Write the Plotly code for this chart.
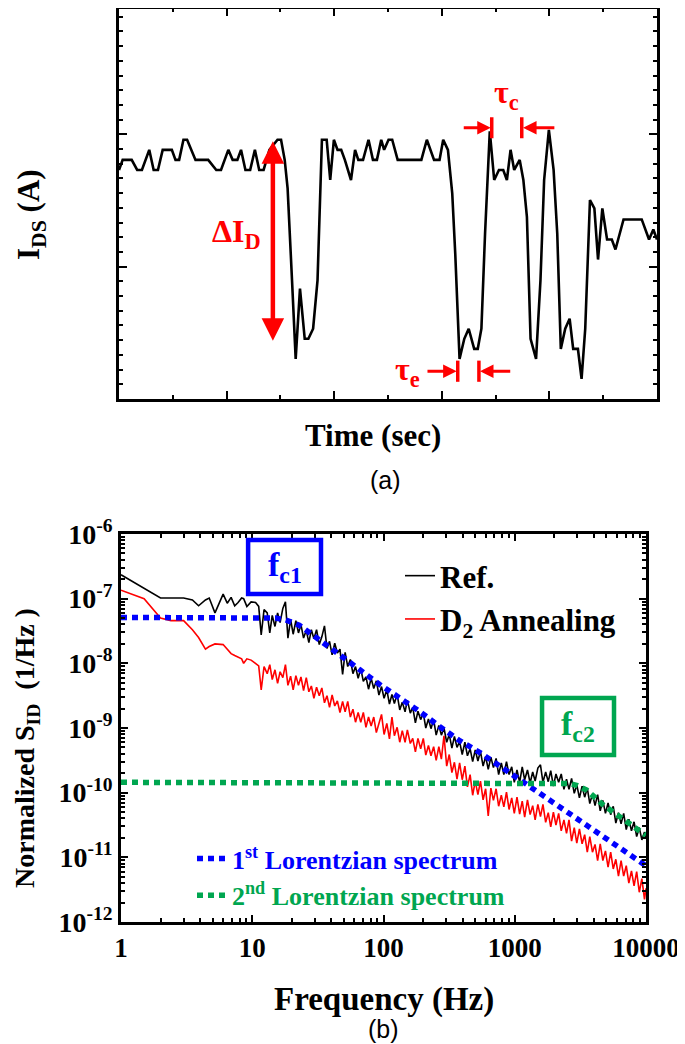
import math
import plotly.graph_objects as go

# ---------------- (a) random telegraph signal ----------------
time_s = [0, 0.034, 0.118, 0.169, 0.213, 0.281, 0.322, 0.362, 0.406, 0.491,
          0.525, 0.559, 0.599, 0.633, 0.711, 0.829, 0.904, 0.948, 1.016, 1.056,
          1.100, 1.134, 1.175, 1.219, 1.263, 1.303, 1.344, 1.398, 1.473, 1.506,
          1.540, 1.567, 1.608, 1.642, 1.682, 1.726, 1.760, 1.804, 1.845, 1.886,
          1.930, 1.963, 1.997, 2.031, 2.065, 2.099, 2.156, 2.194, 2.224, 2.268,
          2.319, 2.360, 2.397, 2.437, 2.464, 2.505, 2.539, 2.590, 2.810, 2.861,
          2.928, 2.979, 3.013, 3.057, 3.097, 3.125, 3.165, 3.209, 3.250, 3.301,
          3.334, 3.368, 3.402, 3.446, 3.487, 3.531, 3.571, 3.605, 3.639, 3.673,
          3.724, 3.758, 3.791, 3.825, 3.876, 3.917, 3.951, 3.995, 4.039, 4.073,
          4.106, 4.147, 4.188, 4.221, 4.265, 4.299, 4.333, 4.377, 4.418, 4.452,
          4.492, 4.536, 4.580, 4.614, 4.689, 4.858, 4.926, 4.966, 5.000]
ids_a = [1.731, 1.807, 1.807, 1.731, 1.731, 1.883, 1.731, 1.731, 1.883, 1.883,
         1.807, 1.807, 1.959, 1.959, 1.807, 1.807, 1.731, 1.731, 1.883, 1.807,
         1.807, 1.883, 1.731, 1.731, 1.883, 1.731, 1.731, 1.883, 1.959, 1.959,
         1.807, 1.592, 0.897, 0.303, 0.834, 0.455, 0.455, 0.531, 0.897, 1.959,
         1.959, 1.655, 1.959, 1.883, 1.883, 1.807, 1.655, 1.883, 1.807, 1.807,
         1.959, 1.807, 1.807, 1.959, 1.883, 1.959, 1.959, 1.807, 1.807, 1.959,
         1.807, 1.807, 1.959, 1.883, 1.554, 1.099, 0.303, 0.455, 0.531, 0.379,
         0.379, 0.531, 1.251, 2.022, 1.655, 1.731, 1.731, 1.655, 1.883, 1.731,
         1.807, 1.655, 1.377, 0.455, 0.303, 0.897, 1.655, 2.034, 1.731, 1.251,
         0.379, 0.531, 0.607, 0.379, 0.379, 0.152, 0.531, 1.504, 1.440, 1.054,
         1.440, 1.205, 1.205, 1.130, 1.357, 1.357, 1.205, 1.281, 1.205]

# ---------------- (b) noise spectra (log10 of normalized S_ID) ----------------
freq_hz = [1, 1.5, 2, 2.4, 3, 3.5, 3.9, 4.4, 4.7, 5.2,
           6, 6.45, 6.9, 7.35, 7.8, 8.3, 8.6, 9.1, 9.8, 10.6,
           11.2, 11.7, 12.3, 13, 13.6, 14.2, 14.9, 15.6, 16.3, 17.1,
           17.9, 18.7, 19.6, 20.5, 21.5, 22.5, 23.5, 24.6, 25.8, 27,
           28.2, 29.5, 30.9, 32.4, 33.9, 35.5, 37.1, 38.8, 40.6, 42.5,
           44.5, 46.6, 48.8, 51, 53.4, 55.9, 58.5, 61.2, 64.1, 67.1,
           70.2, 73.5, 76.9, 80.5, 84.3, 88.2, 92.3, 96.6, 101, 106,
           111, 116, 121, 127, 133, 139, 146, 152, 160, 167,
           175, 183, 192, 201, 210, 220, 230, 241, 252, 264,
           276, 289, 303, 317, 332, 347, 363, 380, 398, 417,
           436, 457, 478, 500, 524, 548, 574, 600, 628, 658,
           688, 721, 754, 790, 826, 865, 905, 948, 992, 1040,
           1090, 1140, 1190, 1250, 1310, 1370, 1430, 1500, 1570, 1640,
           1720, 1800, 1880, 1970, 2060, 2160, 2260, 2370, 2480, 2590,
           2710, 2840, 2970, 3110, 3260, 3410, 3570, 3730, 3910, 4090,
           4280, 4480, 4690, 4910, 5140, 5380, 5630, 5890, 6170, 6460,
           6760, 7070, 7400, 7750, 8110, 8490, 8890, 9300, 9740, 10000]
ref_log10 = [-6.63, -6.84, -6.99, -6.99, -6.99, -7.02, -7.11, -7.02, -6.99, -7.22,
             -6.93, -7.07, -6.98, -7.11, -7.06, -6.99, -7.00, -7.12, -7.05, -7.06,
             -7.12, -7.56, -7.17, -7.22, -7.53, -7.26, -7.43, -7.22, -7.37, -7.15,
             -7.05, -7.61, -7.32, -7.55, -7.34, -7.53, -7.40, -7.61, -7.49, -7.68,
             -7.48, -7.62, -7.48, -7.71, -7.59, -7.42, -7.77, -7.66, -7.87, -7.69,
             -7.84, -7.78, -8.17, -7.83, -8.05, -7.94, -8.16, -8.05, -8.23, -8.08,
             -8.28, -8.21, -8.40, -8.23, -8.39, -8.27, -8.49, -8.36, -8.54, -8.41,
             -8.63, -8.48, -8.62, -8.48, -8.72, -8.60, -8.75, -8.57, -8.77, -8.68,
             -8.92, -8.74, -8.87, -8.77, -9.00, -8.86, -9.01, -8.87, -9.11, -8.96,
             -9.11, -9.00, -9.22, -9.10, -9.31, -9.13, -9.30, -9.21, -9.41, -9.22,
             -9.43, -9.32, -9.52, -9.34, -9.51, -9.36, -9.59, -9.44, -9.64, -9.45,
             -9.61, -9.47, -9.72, -9.54, -9.72, -9.52, -9.72, -9.60, -9.84, -9.65,
             -9.84, -9.60, -9.80, -9.65, -9.85, -9.68, -9.82, -9.62, -9.57, -9.84,
             -9.68, -9.83, -9.66, -9.90, -9.71, -9.84, -9.71, -9.95, -9.79, -9.95,
             -9.78, -10.01, -9.88, -10.08, -9.90, -10.07, -9.93, -10.17, -10.02, -10.20,
             -10.03, -10.28, -10.12, -10.32, -10.16, -10.34, -10.21, -10.47, -10.31, -10.48,
             -10.32, -10.57, -10.41, -10.59, -10.45, -10.68, -10.54, -10.73, -10.61, -10.70]
d2_log10 = [-6.87, -7.00, -7.30, -7.34, -7.34, -7.48, -7.60, -7.78, -7.74, -7.70,
            -7.71, -7.78, -7.85, -7.88, -7.90, -7.93, -8.00, -7.93, -7.95, -8.00,
            -8.04, -8.41, -8.05, -8.16, -8.02, -8.25, -8.10, -8.31, -8.13, -8.22,
            -8.02, -8.34, -8.20, -8.41, -8.19, -8.34, -8.21, -8.42, -8.22, -8.44,
            -8.35, -8.54, -8.37, -8.50, -8.38, -8.61, -8.50, -8.68, -8.49, -8.66,
            -8.58, -8.76, -8.59, -8.75, -8.59, -8.83, -8.71, -8.91, -8.76, -8.91,
            -8.76, -8.99, -8.83, -8.97, -8.83, -9.07, -8.94, -8.79, -9.10, -8.93,
            -9.17, -8.83, -9.12, -8.99, -9.22, -9.04, -9.22, -9.03, -9.24, -9.16,
            -9.37, -9.16, -9.32, -9.16, -9.42, -9.27, -9.43, -9.29, -9.50, -9.29,
            -9.48, -9.12, -9.59, -9.41, -9.69, -9.53, -9.79, -9.54, -9.80, -9.59,
            -9.91, -9.72, -10.04, -9.82, -10.03, -9.82, -10.11, -9.94, -10.36, -9.93,
            -10.12, -9.94, -10.21, -10.04, -10.22, -9.99, -10.26, -10.08, -10.32, -10.07,
            -10.33, -10.13, -10.38, -10.11, -10.34, -10.20, -10.42, -10.18, -10.37, -10.18,
            -10.46, -10.31, -10.53, -10.30, -10.50, -10.32, -10.59, -10.42, -10.63, -10.42,
            -10.75, -10.54, -10.78, -10.56, -10.79, -10.65, -10.92, -10.68, -10.92, -10.80,
            -11.05, -10.79, -11.05, -10.90, -11.15, -10.92, -11.18, -11.03, -11.29, -11.05,
            -11.29, -11.13, -11.40, -11.21, -11.44, -11.22, -11.54, -11.33, -11.65, -11.48]

lor1_freq = [1, 12, 15, 18, 22.8, 26.7, 31, 44, 66, 94, 134, 190, 269, 383, 543,
             687, 975, 1604, 2637, 4335, 7125, 10000]
lor1_log10 = [-7.29, -7.29, -7.30, -7.33, -7.41, -7.51, -7.61, -7.85, -8.10, -8.33,
              -8.54, -8.75, -8.98, -9.20, -9.38, -9.52, -9.73, -10.03, -10.32,
              -10.63, -10.91, -11.13]
lor2_freq = [1, 2000, 2637, 3000, 3532, 4727, 6714, 9268, 10000]
lor2_log10 = [-9.84, -9.84, -9.86, -9.89, -9.96, -10.19, -10.40, -10.60, -10.66]

freq_ticks = [1, 10, 100, 1000, 10000]
freq_ticktext = ["1", "10", "100", "1000", "10000"]
sid_tick_exps = [-12, -11, -10, -9, -8, -7, -6]

# ---------------- styling ----------------
SERIF = "Liberation Serif, Times New Roman, serif"
SANS = "Liberation Sans, Arial, sans-serif"
RED = "#FF0000"
BLUE = "#0000FF"
GREEN = "#00A650"
OFF = 8                      # the page body margin
W, H = 685 - OFF, 1044 - OFF  # figure size so that it fills the window


def px_x(p):
    return (p - OFF) / W


def px_y(p):
    return 1 - (p - OFF) / H


def bold_serif(size, color="black"):
    return dict(family=SERIF, size=size, color=color, weight="bold")


fig = go.Figure()

fig.add_trace(go.Scatter(x=time_s, y=ids_a, mode="lines", xaxis="x", yaxis="y",
                         line=dict(color="black", width=2.6), showlegend=False))

fig.add_trace(go.Scatter(x=freq_hz, y=[10 ** v for v in ref_log10], mode="lines",
                         xaxis="x2", yaxis="y2", name="Ref.", legend="legend",
                         line=dict(color="black", width=1.6)))
fig.add_trace(go.Scatter(x=freq_hz, y=[10 ** v for v in d2_log10], mode="lines",
                         xaxis="x2", yaxis="y2", name="D<sub>2</sub> Annealing",
                         legend="legend", line=dict(color=RED, width=1.6)))
fig.add_trace(go.Scatter(x=lor1_freq, y=[10 ** v for v in lor1_log10], mode="lines",
                         xaxis="x2", yaxis="y2",
                         name="<span style='color:#0000FF'>1<sup>st</sup> Lorentzian spectrum</span>",
                         legend="legend2",
                         line=dict(color=BLUE, width=5.5, dash="6px,5px")))
fig.add_trace(go.Scatter(x=lor2_freq, y=[10 ** v for v in lor2_log10], mode="lines",
                         xaxis="x2", yaxis="y2",
                         name="<span style='color:#00A650'>2<sup>nd</sup> Lorentzian spectrum</span>",
                         legend="legend2",
                         line=dict(color=GREEN, width=5.5, dash="6px,5px")))

axis_common = dict(showline=True, linecolor="black", linewidth=2.6, mirror="allticks",
                   ticks="inside", tickcolor="black", tickwidth=2, showgrid=False,
                   zeroline=False, automargin=False)

minor_log_x = [m * 10 ** d for d in range(0, 4) for m in range(2, 10)]
minor_log_y = [m * 10.0 ** d for d in range(-12, -6) for m in range(2, 10)]

fig.update_layout(
    width=W, height=H, autosize=False,
    margin=dict(l=0, r=0, t=0, b=0, pad=0, autoexpand=False),
    paper_bgcolor="white", plot_bgcolor="white",
    xaxis=dict(domain=[px_x(119), px_x(657)], anchor="y", range=[0, 5],
               tick0=0, dtick=1, ticklen=8, showticklabels=False,
               minor=dict(ticks="inside", tick0=0, dtick=0.5, ticklen=4,
                          tickwidth=2, tickcolor="black", showgrid=False),
               **axis_common),
    yaxis=dict(domain=[px_y(399), px_y(OFF + 0.5)], anchor="x", range=[0, 2.951],
               tick0=0, dtick=1, ticklen=8, showticklabels=False,
               minor=dict(ticks="inside", tick0=0, dtick=1 / 9, ticklen=4,
                          tickwidth=2, tickcolor="black", showgrid=False),
               **axis_common),
    xaxis2=dict(domain=[px_x(121), px_x(646)], anchor="y2", type="log",
                range=[0, 4], tickmode="array", tickvals=freq_ticks,
                ticktext=freq_ticktext, ticklen=7,
                tickfont=bold_serif(27),
                minor=dict(ticks="inside", tickmode="array", tickvals=minor_log_x,
                           ticklen=4, tickwidth=1.5, tickcolor="black", showgrid=False),
                **axis_common),
    yaxis2=dict(domain=[px_y(922), px_y(534)], anchor="x2", type="log",
                range=[-12, -6], tickmode="array",
                tickvals=[10.0 ** e for e in sid_tick_exps],
                ticktext=["10<sup>%d</sup>" % e for e in sid_tick_exps],
                ticklen=7,
                tickfont=bold_serif(28),
                minor=dict(ticks="inside", tickmode="array", tickvals=minor_log_y,
                           ticklen=4, tickwidth=1.5, tickcolor="black", showgrid=False),
                **axis_common),
    legend=dict(x=px_x(400), y=px_y(549), xanchor="left", yanchor="top",
                bgcolor="rgba(0,0,0,0)", borderwidth=0,
                font=bold_serif(31)),
    legend2=dict(x=px_x(192), y=px_y(835), xanchor="left", yanchor="top",
                 bgcolor="rgba(0,0,0,0)", borderwidth=0,
                 font=bold_serif(26)),
)


def paper_text(text, x, y, font, angle=0):
    return dict(text=text, x=px_x(x), y=px_y(y), xref="paper", yref="paper",
                xanchor="center", yanchor="middle", showarrow=False,
                textangle=angle, font=font)


annotations = [
    paper_text("(a)", 385, 480, dict(family=SANS, size=25, color="black")),
    paper_text("(b)", 383, 1029, dict(family=SANS, size=25, color="black")),
    paper_text("I<sub>DS</sub> (A)", 31, 215, bold_serif(31), -90),
    paper_text("Time (sec)", 373, 435, bold_serif(31)),
    paper_text("Normalized S<sub>ID</sub>\u00a0\u00a0(1/Hz )", 26, 748, bold_serif(28), -90),
    paper_text("Frequency (Hz)", 384, 999, bold_serif(33)),
    # panel (a) markers
    dict(text="", x=1.43, y=0.44, ax=1.43, ay=1.96, xref="x", yref="y",
         axref="x", ayref="y", showarrow=True, arrowhead=2, startarrowhead=2,
         arrowside="end+start", arrowwidth=4.5, arrowsize=1, startarrowsize=1,
         arrowcolor=RED),
    dict(text="ΔI<sub>D</sub>", x=1.09, y=1.25, xref="x", yref="y", showarrow=False,
         xanchor="center", yanchor="middle", font=bold_serif(32, RED)),
    dict(text="τ<sub>c</sub>", x=3.60, y=2.30, xref="x", yref="y", showarrow=False,
         xanchor="center", yanchor="middle", font=bold_serif(32, RED)),
    dict(text="τ<sub>e</sub>", x=2.68, y=0.21, xref="x", yref="y", showarrow=False,
         xanchor="center", yanchor="middle", font=bold_serif(32, RED)),
]
for head, tail, yv in [(3.455, 3.19, 2.05), (3.755, 4.06, 2.05),
                       (3.138, 2.853, 0.21), (3.355, 3.65, 0.21)]:
    annotations.append(dict(text="", x=head, y=yv, ax=tail, ay=yv, xref="x", yref="y",
                            axref="x", ayref="y", showarrow=True, arrowhead=2,
                            arrowwidth=3, arrowsize=0.9, arrowcolor=RED))

# f_c boxes (data coords on the log axes)
fc1_box = [9.3, 33.4, 1.18e-7, 8.1e-7]
fc2_box = [1614, 5705, 3.83e-10, 2.91e-9]
for box, label, col in [(fc1_box, "f<sub>c1</sub>", BLUE), (fc2_box, "f<sub>c2</sub>", GREEN)]:
    cx = (math.log10(box[0]) + math.log10(box[1])) / 2
    cy = (math.log10(box[2]) + math.log10(box[3])) / 2
    annotations.append(dict(text=label, x=cx, y=cy, xref="x2", yref="y2",
                            xanchor="center", yanchor="middle",
                            showarrow=False, font=bold_serif(34, col)))

shapes = []
for xb, y0, y1 in [(3.464, 1.97, 2.13), (3.743, 1.97, 2.13),
                   (3.148, 0.13, 0.29), (3.345, 0.13, 0.29)]:
    shapes.append(dict(type="line", x0=xb, x1=xb, y0=y0, y1=y1, xref="x", yref="y",
                       line=dict(color=RED, width=3.5)))
shapes.append(dict(type="rect", x0=fc1_box[0], x1=fc1_box[1], y0=fc1_box[2], y1=fc1_box[3],
                   xref="x2", yref="y2", line=dict(color=BLUE, width=4.5)))
shapes.append(dict(type="rect", x0=fc2_box[0], x1=fc2_box[1], y0=fc2_box[2], y1=fc2_box[3],
                   xref="x2", yref="y2", line=dict(color=GREEN, width=4.5)))

fig.update_layout(annotations=annotations, shapes=shapes)

fig.write_html("out.html")
